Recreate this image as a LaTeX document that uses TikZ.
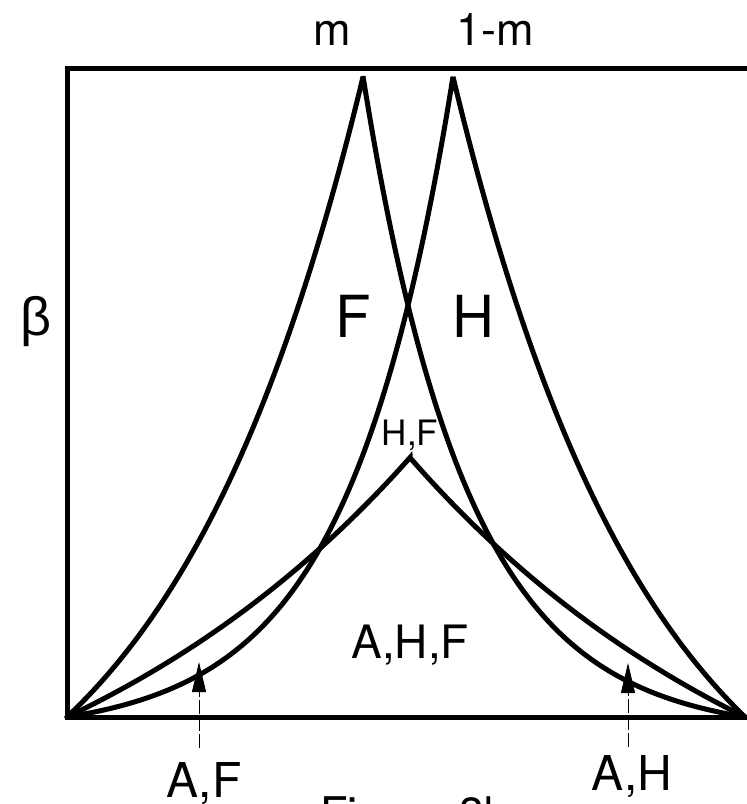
\documentclass[tikz,border=0pt]{standalone}
\usepackage{fontspec}
\setmainfont{TeX Gyre Heros}
\newfontfamily\betafont{Liberation Sans}
\usetikzlibrary{arrows.meta}
\begin{document}
\begin{tikzpicture}[x=1pt,y=-1pt,
  curve/.style={line width=5pt, line join=miter, line cap=round},
  frame/.style={line width=5pt},
  guide/.style={line width=0.8pt, dash pattern=on 14pt off 3pt, -{Triangle[length=30pt,width=14pt]}},
  txt/.style={inner sep=0pt, anchor=base},
  toplbl/.style={txt, font=\fontsize{45}{45}\selectfont},
  biglbl/.style={txt, font=\fontsize{58}{58}\selectfont},
  smalllbl/.style={txt, font=\fontsize{35}{35}\selectfont},
  midlbl/.style={txt, font=\fontsize{46}{46}\selectfont},
  axlbl/.style={txt, font=\fontsize{48}{48}\selectfont},
  betalbl/.style={txt, font=\fontsize{54}{54}\betafont}
]
\useasboundingbox (0,0) rectangle (747,804);
\fill[white] (0,0) rectangle (747,804);
\coordinate (O) at (67,717);
\coordinate (R) at (745,717);
\coordinate (TL) at (67,68);
\coordinate (TR) at (753,68);
\coordinate (BR) at (753,717);
% frame
\draw[frame] (TL) -- (TR) -- (BR) -- (O) -- cycle;
% curve from O to peak m, then down to R
\draw[curve] plot[domain=0:296,samples=120,variable=\t] ({67+\t},{717-188.3*(exp(0.005*\t)-1)})
  -- plot[domain=382:0,samples=120,variable=\t] ({745-\t},{717-17.43*(exp(0.0095*\t)-1)});
% curve from O to peak 1-m, then down to R
\draw[curve] plot[domain=0:386,samples=120,variable=\t] ({67+\t},{717-16.75*(exp(0.0095*\t)-1)})
  -- plot[domain=292:0,samples=120,variable=\t] ({745-\t},{717-193.3*(exp(0.005*\t)-1)});
% central tent
\draw[curve] plot[domain=0:343,samples=100,variable=\t] ({67+\t},{717-190.9*(exp(0.0025*\t)-1)})
  -- plot[domain=335:0,samples=100,variable=\t] ({745-\t},{717-197.6*(exp(0.0025*\t)-1)});
% labels
\node[toplbl] (m) at (332,45) {m};
\node[toplbl] (onem) at (495,45) {1-m};
\node[biglbl] (F) at (353,337) {F};
\node[biglbl] (H) at (473,337) {H};
\node[betalbl] (beta) at (36,335) {β};
\node[smalllbl] (HF) at (410,445) {H,F};
\node[midlbl] (AHF) at (410,658) {A,H,F};
\node[axlbl] (AF) at (204,797) {A,F};
\node[axlbl] (AH) at (632,790) {A,H};
\node[txt, font=\fontsize{45}{45}\selectfont] (fig) at (415,829) {Figure 3b};
% pointers
\coordinate (AFtip) at (199,662);
\coordinate (AFfoot) at (199,748);
\coordinate (AHtip) at (628,663);
\coordinate (AHfoot) at (628,747);
\draw[guide] (AFfoot) -- (AFtip);
\draw[guide] (AHfoot) -- (AHtip);
\end{tikzpicture}
\end{document}
